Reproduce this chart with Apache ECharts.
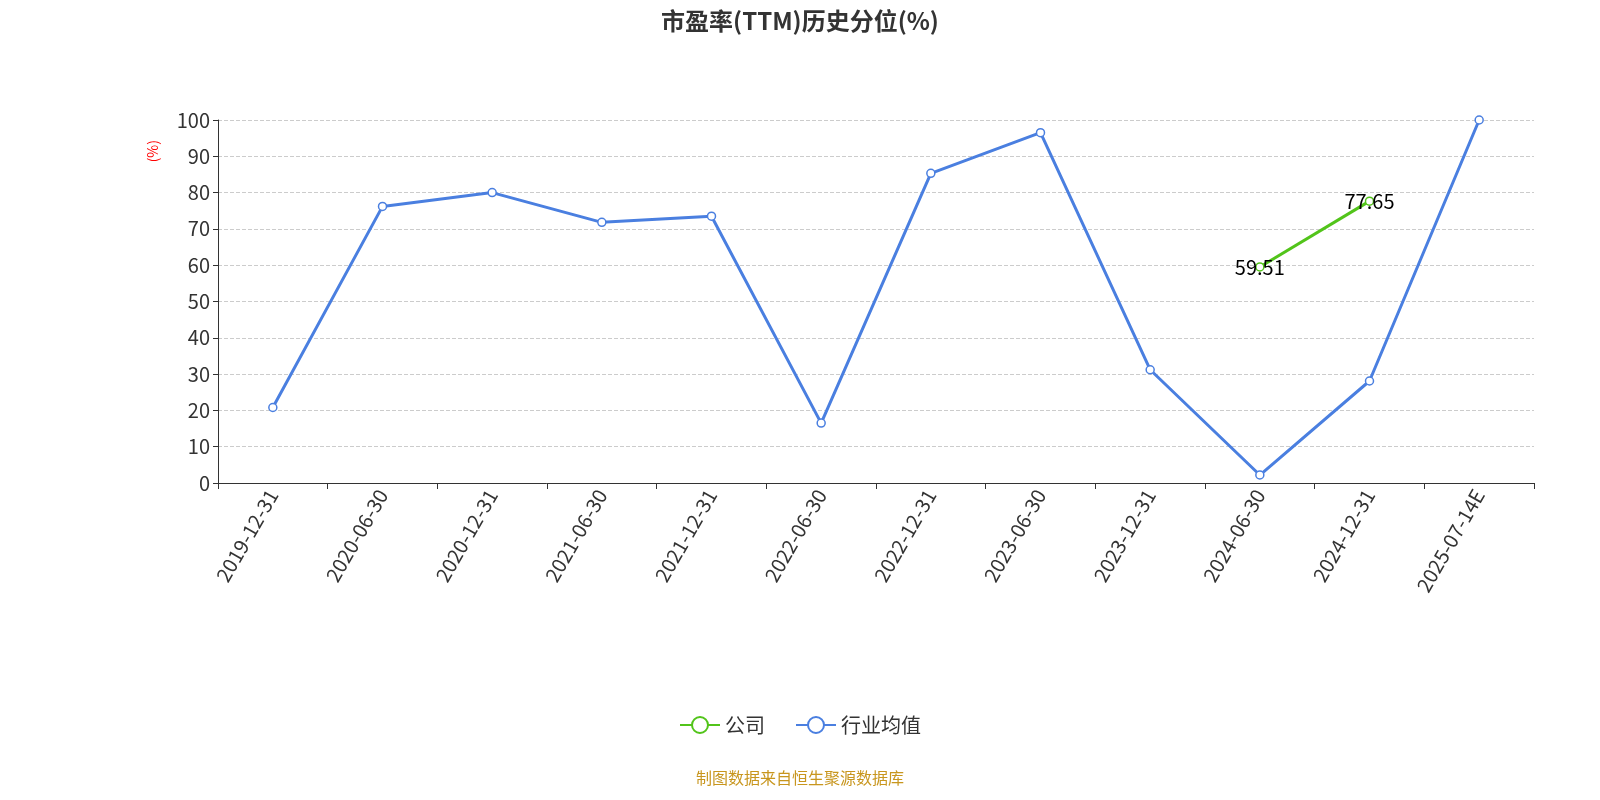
<!DOCTYPE html>
<html><head><meta charset="utf-8">
<script src="https://cdn.jsdelivr.net/npm/echarts@6/dist/echarts.min.js"></script>
<style>html,body{margin:0;padding:0}#c{width:1600px;height:800px}</style>
</head><body><div id="c"></div>
<script>
const categories=['2019-12-31','2020-06-30','2020-12-31','2021-06-30','2021-12-31','2022-06-30','2022-12-31','2023-06-30','2023-12-31','2024-06-30','2024-12-31','2025-07-14E'];
const companyValues=[null,null,null,null,null,null,null,null,null,59.51,77.65,null];
const industryValues=[20.8,76.2,80.0,71.8,73.5,16.5,85.3,96.5,31.2,2.2,28.1,100];
const yTicks=[0,10,20,30,40,50,60,70,80,90,100];
const FONT='"Noto Sans CJK SC","Noto Sans",sans-serif';
const chart=echarts.init(document.getElementById('c'));
chart.setOption({
  textStyle:{fontFamily:FONT},
  title:{text:'市盈率(TTM)历史分位(%)',left:'center',top:4,textStyle:{fontSize:24,fontWeight:'bold',color:'#333',fontFamily:FONT}},
  legend:{bottom:60,itemWidth:40,itemHeight:20,textStyle:{fontSize:20,color:'#333',fontFamily:FONT},itemGap:30,
    data:['公司','行业均值']},
  graphic:[
    {type:'text',left:146,top:140,rotation:Math.PI/2,style:{text:'(%)',fill:'red',fontSize:14,fontFamily:FONT}},
    {type:'text',left:'center',bottom:14,style:{text:'制图数据来自恒生聚源数据库',fill:'#c8961e',fontSize:16,fontFamily:FONT}}
  ],
  grid:{left:218,right:66,top:120,bottom:317},
  xAxis:{type:'category',data:categories,boundaryGap:true,
    axisLine:{lineStyle:{color:'#333'}},axisTick:{show:true,length:6,lineStyle:{color:'#333'}},
    axisLabel:{rotate:60,fontSize:20,color:'#333',interval:0,fontFamily:FONT}},
  yAxis:{type:'value',min:yTicks[0],max:yTicks[yTicks.length-1],interval:10,
    axisLine:{show:true,lineStyle:{color:'#333'}},axisTick:{show:true,lineStyle:{color:'#333'}},
    axisLabel:{fontSize:20,color:'#333',fontFamily:FONT},
    splitLine:{lineStyle:{type:'dashed',color:'#ccc'}}},
  series:[
    {name:'公司',type:'line',data:companyValues,color:'#52c41a',symbol:'circle',symbolSize:8,
      itemStyle:{color:'#fff',borderColor:'#52c41a',borderWidth:1.5},lineStyle:{width:3,color:'#52c41a'},
      label:{show:true,position:'inside',fontSize:20,color:'#000',fontFamily:FONT}},
    {name:'行业均值',type:'line',data:industryValues,color:'#4a7fe0',symbol:'circle',symbolSize:8,
      itemStyle:{color:'#fff',borderColor:'#4a7fe0',borderWidth:1.5},lineStyle:{width:3,color:'#4a7fe0'}}
  ]
});
</script></body></html>
